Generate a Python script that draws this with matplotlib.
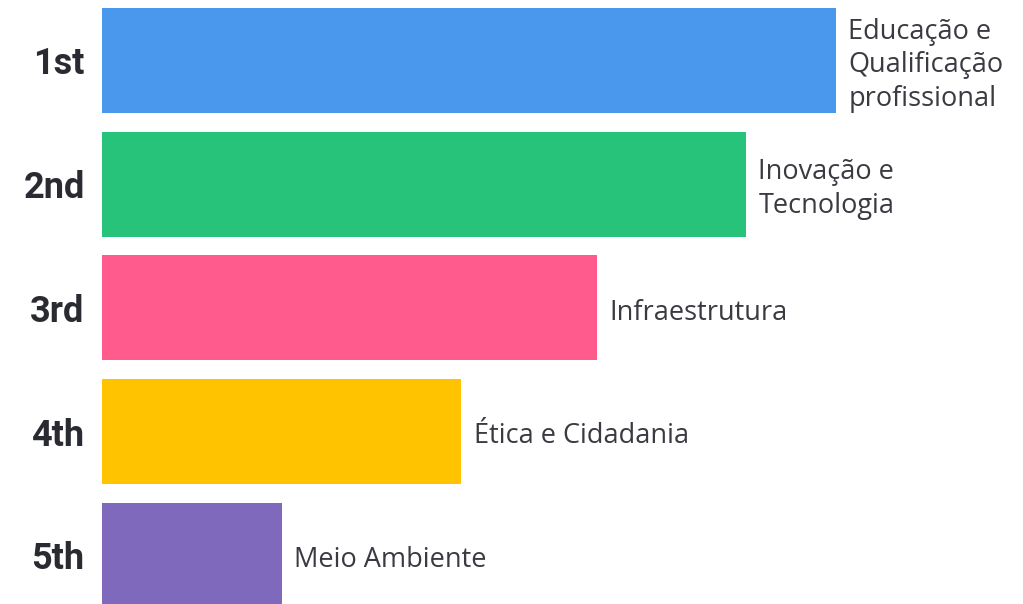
import matplotlib
matplotlib.use('Agg')
from matplotlib import pyplot as plt

ranks = ['1st', '2nd', '3rd', '4th', '5th']
topics = ['Educação e\nQualificação\nprofissional', 'Inovação e\nTecnologia', 'Infraestrutura',
          'Ética e Cidadania', 'Meio Ambiente']
scores = [734, 644, 495, 359, 180]
colors = ['#4A98EE', '#27C37B', '#FF5C8D', '#FFC300', '#7E69BD']

plt.rcParams['font.family'] = ['Roboto', 'DejaVu Sans']

fig = plt.figure(figsize=(10.23, 6.04), dpi=100)
fig.patch.set_facecolor('white')
ax = fig.add_axes([102 / 1023, 0, 921 / 1023, 1])

positions = list(range(len(ranks)))
ax.barh(positions, scores, height=0.85, color=colors)

for pos, score, topic in zip(positions, scores, topics):
    ax.annotate(topic, xy=(score, pos), xytext=(9, -3.5), textcoords='offset points',
                ha='left', va='center', fontsize=19.5, color='#3a3a42', linespacing=1.27,
                family=['Open Sans', 'DejaVu Sans'])

ax.set_xlim(0, 921)
ax.set_ylim(4.394, -0.489)
ax.set_yticks(positions)
ax.set_yticklabels(ranks, fontsize=26, fontweight='bold', color='#2a2a32')
ax.tick_params(axis='y', length=0, pad=12.5)
ax.set_xticks([])
for side in ax.spines.values():
    side.set_visible(False)
ax.patch.set_alpha(0)

fig.savefig('out.png', dpi=100, facecolor='white')
